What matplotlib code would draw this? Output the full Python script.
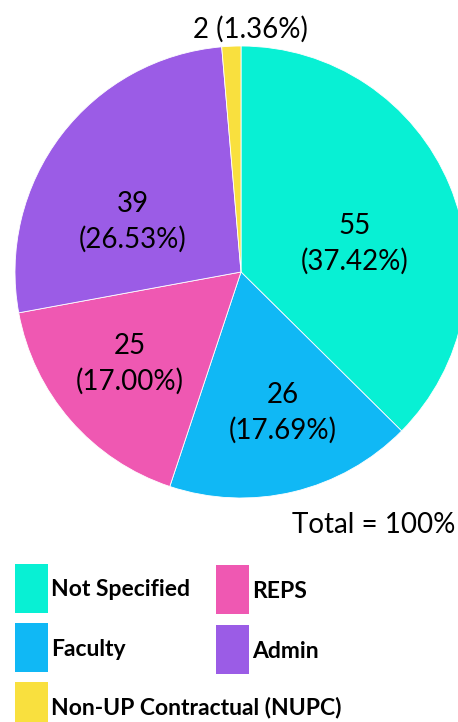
import matplotlib
matplotlib.use("Agg")
import matplotlib.pyplot as plt
from matplotlib.patches import Rectangle

categories = ["Not Specified", "Faculty", "REPS", "Admin", "Non-UP Contractual (NUPC)"]
values = [55, 26, 25, 39, 2]
percent_labels = ["37.42%", "17.69%", "17.00%", "26.53%", "1.36%"]
colors = ["#08F0D4", "#10B8F5", "#EF58B2", "#9B5CE6", "#F9E03E"]
total_label = "Total = 100%"

plt.rcParams['font.family'] = ['Lato', 'DejaVu Sans']

W, H = 458, 722
fig = plt.figure(figsize=(W / 100, H / 100), dpi=100)
ax = fig.add_axes([0, 0, 1, 1])

cx, cy, r = 241, H - 272, 226
ax.pie(values, colors=colors, startangle=90, counterclock=False,
       center=(cx, cy), radius=r, frame=True,
       wedgeprops=dict(linewidth=0.6, edgecolor='white'))
ax.set_xlim(0, W)
ax.set_ylim(0, H)
ax.set_aspect('equal')
ax.axis('off')

label_pos = [(355, 244), (283, 413), (130, 364), (133, 222), (250, 29)]
for v, p, (px, py) in zip(values, percent_labels, label_pos):
    if v < 5:
        txt = f"{v} ({p})"
    else:
        txt = f"{v}\n({p})"
    ax.text(px, H - py, txt, ha='center', va='center', fontsize=20,
            linespacing=1.38, color='black')

ax.text(455, H - 525, total_label, ha='right', va='center', fontsize=20)

# legend
leg_pos = [(15, 564), (15, 623), (216, 565), (216, 625), (15, 682)]
for (lx, ly), c, name in zip(leg_pos, colors, categories):
    ax.add_patch(Rectangle((lx, H - ly - 49), 33, 49, facecolor=c, edgecolor='none'))
    ax.text(lx + 36, H - ly - 26, name, ha='left', va='center', fontsize=16.5,
            fontweight='bold')

fig.savefig("out.png", dpi=100)
